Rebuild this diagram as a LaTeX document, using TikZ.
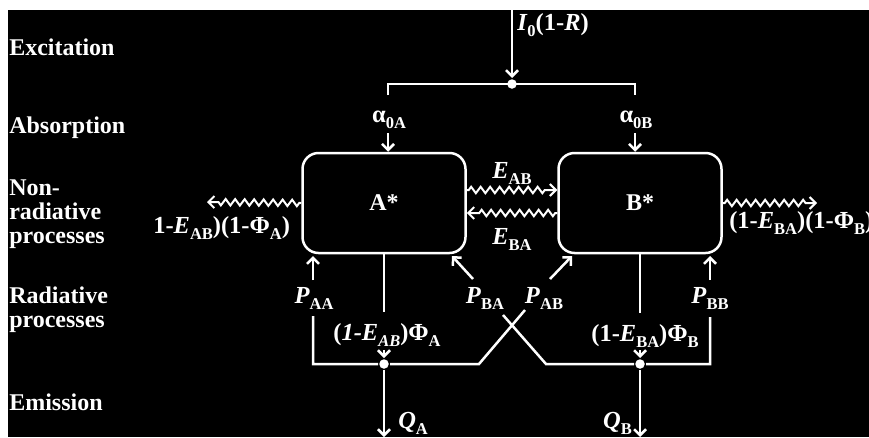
\documentclass[tikz,border=0pt]{standalone}
\usepackage{fontspec}
\setmainfont{Liberation Serif}
\usetikzlibrary{decorations.pathmorphing,arrows.meta}

% lowered subscript set in a smaller size
\newcommand{\lo}[1]{\raisebox{-6pt}{\fontsize{16.5}{16.5}\selectfont #1}}

\begin{document}
\begin{tikzpicture}[x=1pt,y=-1pt, line width=2.5pt, draw=white,
  every node/.style={text=white, inner sep=0pt},
  rowlabel/.style={anchor=west, align=left, font=\fontsize{24}{24}\selectfont\bfseries},
  formula/.style={font=\fontsize{24.5}{24.5}\selectfont\bfseries},
  statebox/.style={draw, rounded corners=16pt, minimum width=163pt, minimum height=100pt,
                   font=\fontsize{24}{24}\selectfont\bfseries},
  arr/.style={-{Straight Barb[length=6pt,width=12pt]}},
  wave/.style={decorate, line width=2pt,
               decoration={zigzag, amplitude=3.2pt, segment length=9.5pt, pre length=2pt, post length=8pt}},
  dot/.style={circle, fill=white, draw=none, minimum size=9.5pt}
]
% page and dark panel
\fill[white] (0,0) rectangle (869,437);
\fill[black] (8,10) rectangle (869,437);
\useasboundingbox (0,0) rectangle (869,437);

% row labels
\node[rowlabel] (lexc) at (8,47)  {Excitation};
\node[rowlabel] (labs) at (8,128) {Absorption};
\node[rowlabel] (lnon) at (8,214) {Non-\\radiative\\processes};
\node[rowlabel] (lrad) at (8,310) {Radiative\\processes};
\node[rowlabel] (lemi) at (8,402) {Emission};

% excited states
\node[statebox] (A) at (384,203) {A*};
\node[statebox] (B) at (640,203) {B*};

% excitation and splitting into the two absorbers
\coordinate (src) at (512,10);
\node[dot] (J0) at (512,84) {};
\draw[arr] (src) -- (J0);
\node[formula, anchor=base west] (I0) at (516,30) {\textit{I}\lo{0}(1-\textit{R})};
\coordinate (tl) at (388,95);
\coordinate (tr) at (635,95);
\draw (tl) -- (tl |- J0) -- (tr |- J0) -- (tr);
\node[formula, anchor=base] (aA) at (389,122) {α\lo{0A}};
\node[formula, anchor=base] (aB) at (636,122) {α\lo{0B}};
\coordinate (aAt) at (388,133);
\coordinate (aBt) at (635,133);
\draw[arr] (aAt) -- (aAt |- A.north);
\draw[arr] (aBt) -- (aBt |- B.north);

% energy transfer
\draw[arr, wave] ([yshift=13pt]A.east) -- ([yshift=13pt]B.west);
\draw[arr, wave] ([yshift=-10pt]B.west) -- ([yshift=-10pt]A.east);
\node[formula, anchor=base] (EAB) at (512,178) {\textit{E}\lo{AB}};
\node[formula, anchor=base] (EBA) at (512,244) {\textit{E}\lo{BA}};

% non-radiative losses
\coordinate (nrA) at (207,202);
\coordinate (nrB) at (817,203);
\draw[arr, wave] (A.west) -- (nrA);
\draw[arr, wave] (B.east) -- (nrB);
\node[formula, anchor=base west] (nrAl) at (152,233) {1-\textit{E}\lo{AB})(1-Φ\lo{A})};
\node[formula, anchor=base west] (nrBl) at (728,228) {(1-\textit{E}\lo{BA})(1-Φ\lo{B})};

% radiative output of A
\coordinate (Abot) at (384,312);
\draw (A.south) -- (Abot);
\node[formula, anchor=base] (phA) at (387,340) {(\textit{1-E}\lo{\textit{AB}})Φ\lo{A}};
\node[dot] (JA) at (384,364) {};
\coordinate (phAt) at (384,350);
\draw[arr] (phAt) -- (JA);
\coordinate (QAe) at (384,437);
\draw[arr] (JA) -- (QAe);
\node[formula, anchor=base west] (QA) at (397,428) {\textit{Q}\lo{A}};

% radiative output of B
\coordinate (Bbot) at (640,313);
\draw (B.south) -- (Bbot);
\node[formula, anchor=base] (phB) at (645,341) {(1-\textit{E}\lo{BA})Φ\lo{B}};
\node[dot] (JB) at (640,364) {};
\coordinate (phBt) at (640,350);
\draw[arr] (phBt) -- (JB);
\coordinate (QBe) at (640,437);
\draw[arr] (JB) -- (QBe);
\node[formula, anchor=base east] (QB) at (633,428) {\textit{Q}\lo{B}};

% reabsorption labels
\node[formula, anchor=base] (PAA) at (314,303) {\textit{P}\lo{AA}};
\node[formula, anchor=base] (PBA) at (485,303) {\textit{P}\lo{BA}};
\node[formula, anchor=base] (PAB) at (544,303) {\textit{P}\lo{AB}};
\node[formula, anchor=base] (PBB) at (710,303) {\textit{P}\lo{BB}};

% reabsorption paths (crossing)
\coordinate (c1) at (313,316);
\coordinate (k1) at (479,364);
\coordinate (k2) at (525,310);
\draw (c1) -- (c1 |- JA) -- (JA) -- (k1) -- (k2);
\coordinate (k3) at (503,315);
\coordinate (k4) at (546,364);
\coordinate (c2) at (710,317);
\draw (k3) -- (k4) -- (JB) -- (c2 |- JB) -- (c2);

% reabsorption arrows into the states
\coordinate (pAAs) at (313,280);
\coordinate (pAAe) at (313,256);
\coordinate (pBAs) at (473,279);
\coordinate (pBAe) at (452,256);
\coordinate (pABs) at (550,279);
\coordinate (pABe) at (572,256);
\coordinate (pBBs) at (710,280);
\coordinate (pBBe) at (710,256);
\draw[arr] (pAAs) -- (pAAe);
\draw[arr] (pBAs) -- (pBAe);
\draw[arr] (pABs) -- (pABe);
\draw[arr] (pBBs) -- (pBBe);
\end{tikzpicture}
\end{document}
